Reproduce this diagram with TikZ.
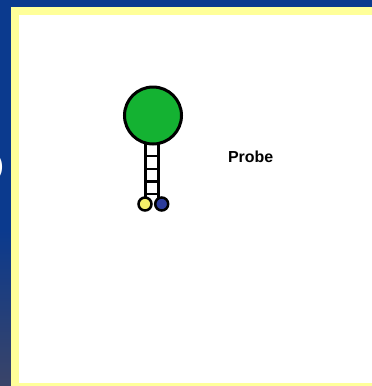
\documentclass[tikz,border=0pt]{standalone}
\usepackage{fontspec}
\setmainfont{Liberation Sans}
\definecolor{slideblue}{RGB}{11,58,142}
\definecolor{slidegrey}{RGB}{58,68,104}
\definecolor{frameyellow}{RGB}{255,255,153}
\definecolor{loopgreen}{RGB}{20,178,50}
\definecolor{dyeyellow}{RGB}{245,240,105}
\definecolor{quenchblue}{RGB}{44,60,156}
\tikzset{
  rail/.style={line width=2.7bp, black},
  bead/.style={line width=2.5bp, draw=black},
}
\begin{document}
\begin{tikzpicture}[x=1bp,y=-1bp]
\useasboundingbox (0,0) rectangle (372,386);
% slide behind the panel
\fill[slideblue] (0,0) rectangle (372,386);
\shade[top color=slideblue, bottom color=slidegrey] (0,230) rectangle (11,386);
\node[white, font=\fontsize{28}{28}\selectfont, anchor=east] (paren) at (7.5,167) {)};
% panel with yellow frame
\fill[frameyellow] (11,7) rectangle (372,386);
\fill[white] (19,15) rectangle (372,383);
% stem of the hairpin
\draw[rail] (145.3,140) -- (145.3,200);
\draw[rail] (158.7,140) -- (158.7,200);
\foreach \y in {156,169,181.5,194}
  \draw[rail] (145.3,\y) -- (158.7,\y);
% loop
\filldraw[fill=loopgreen, draw=black, line width=3bp] (153,115.5) circle (28.5);
% fluorophore and quencher
\filldraw[bead, fill=dyeyellow] (145,204) circle (6.5);
\filldraw[bead, fill=quenchblue] (161.7,204) circle (6.5);
\node[font=\fontsize{16}{16}\selectfont\bfseries, anchor=base] (probe) at (250.7,162.5) {Probe};
\end{tikzpicture}
\end{document}
